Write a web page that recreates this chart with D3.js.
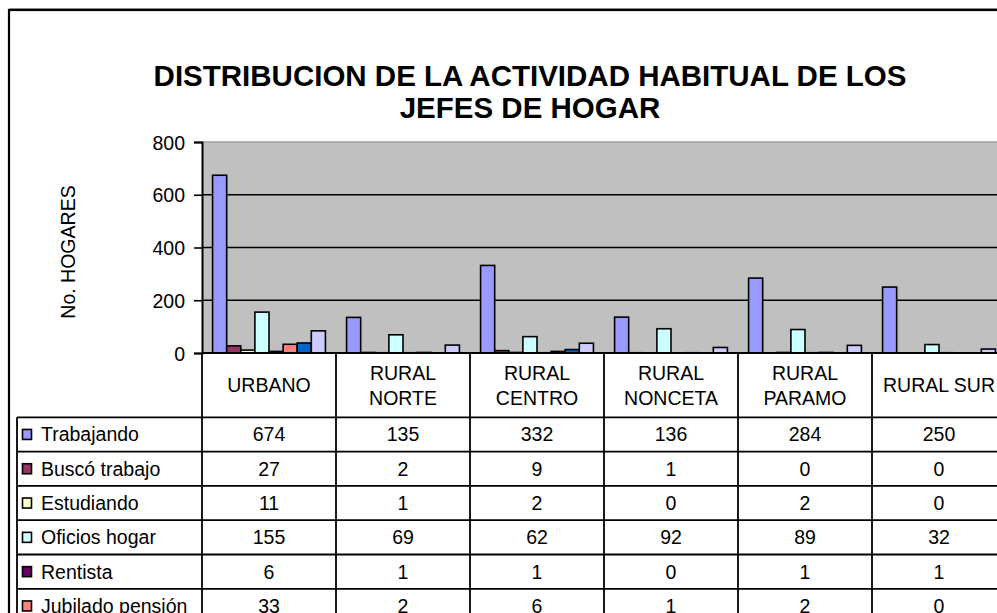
<!DOCTYPE html>
<html>
<head>
<meta charset="utf-8">
<script src="https://cdn.jsdelivr.net/npm/d3@7/dist/d3.min.js"></script>
<style>
  html, body { margin: 0; padding: 0; background: #fff; }
  svg { display: block; }
  text { font-family: Arial, "Liberation Sans", sans-serif; fill: #000; }
</style>
</head>
<body>
<script>
// ---- data ----
const titleLines = ["DISTRIBUCION DE LA ACTIVIDAD HABITUAL DE LOS", "JEFES DE HOGAR"];
const yAxisTitle = "No. HOGARES";
const categories = ["URBANO", "RURAL NORTE", "RURAL CENTRO", "RURAL NONCETA", "RURAL PARAMO", "RURAL SUR"];
const categoryLabelLines = [["URBANO"], ["RURAL", "NORTE"], ["RURAL", "CENTRO"], ["RURAL", "NONCETA"], ["RURAL", "PARAMO"], ["RURAL SUR"]];
const seriesNames = ["Trabajando", "Buscó trabajo", "Estudiando", "Oficios hogar", "Rentista", "Jubilado pensión", "Incapacitado", "Otro"];
const trabajando   = [674, 135, 332, 136, 284, 250];
const buscoTrabajo = [27, 2, 9, 1, 0, 0];
const estudiando   = [11, 1, 2, 0, 2, 0];
const oficiosHogar = [155, 69, 62, 92, 89, 32];
const rentista     = [6, 1, 1, 0, 1, 1];
const jubilado     = [33, 2, 6, 1, 2, 0];
const serie7       = [38, 0, 13, 0, 0, 0];
const serie8       = [84, 30, 37, 21, 29, 15];
const seriesValues = [trabajando, buscoTrabajo, estudiando, oficiosHogar, rentista, jubilado, serie7, serie8];
const seriesColors = ["#9999FF", "#993366", "#FFFFCC", "#CCFFFF", "#660066", "#FF8080", "#0066CC", "#CCCCFF"];
const yTicks = [0, 200, 400, 600, 800];

// ---- layout ----
const W = 997, H = 613;
const plotLeft = 202, plotTop = 142, plotBottom = 353;
const catWidth = 134;
const rowH = 34.3;
const headerBottom = 417.3;
const tableLeft = 17;
const fs = 19.5;

const svg = d3.select("body").append("svg").attr("width", W).attr("height", H);

// outer chart border (extends beyond visible area)
svg.append("line").attr("x1", 9).attr("x2", W + 10).attr("y1", 8.5).attr("y2", 8.5)
  .attr("stroke", "#999").attr("stroke-width", 1);
svg.append("rect").attr("x", 9).attr("y", 10).attr("width", W + 50).attr("height", H + 50)
  .attr("fill", "none").attr("stroke", "#000").attr("stroke-width", 2.2);

// title
svg.append("g").selectAll("text").data(titleLines).join("text")
  .attr("x", 530).attr("y", (d, i) => 86 + i * 32)
  .attr("text-anchor", "middle").attr("font-weight", "bold").attr("font-size", 29.5)
  .text(d => d);

// scales
const x0 = d3.scaleBand().domain(categories).range([plotLeft, plotLeft + catWidth * categories.length])
  .paddingInner(0).paddingOuter(0);
const x1 = d3.scaleBand().domain(d3.range(seriesNames.length)).range([0, x0.bandwidth()])
  .paddingInner(0).paddingOuter(0.75);
const y = d3.scaleLinear().domain([0, 800]).range([plotBottom, plotTop]);

// plot area
svg.append("rect").attr("x", plotLeft).attr("y", plotTop).attr("width", W - plotLeft + 20)
  .attr("height", plotBottom - plotTop).attr("fill", "#C0C0C0");
svg.append("line").attr("x1", plotLeft).attr("x2", W + 5).attr("y1", plotTop).attr("y2", plotTop)
  .attr("stroke", "#A0A0A0").attr("stroke-width", 1.5);

// gridlines
svg.append("g").selectAll("line").data(yTicks.filter(t => t > 0 && t < 800)).join("line")
  .attr("x1", plotLeft).attr("x2", W + 5).attr("y1", d => y(d)).attr("y2", d => y(d))
  .attr("stroke", "#000").attr("stroke-width", 1.6);

// bars
const gCats = svg.append("g").selectAll("g").data(categories).join("g")
  .attr("transform", d => `translate(${x0(d)},0)`);
gCats.selectAll("rect").data((c, ci) => seriesValues.map((vals, si) => ({ si, v: vals[ci] })))
  .join("rect")
  .attr("x", d => x1(d.si)).attr("width", x1.bandwidth())
  .attr("y", d => y(d.v)).attr("height", d => Math.max(0, plotBottom - y(d.v)))
  .attr("fill", d => seriesColors[d.si])
  .attr("stroke", d => d.v > 0 ? "#000" : "none").attr("stroke-width", 1.6);

// y axis
const yAxis = d3.axisLeft(y).tickValues(yTicks).tickSize(8).tickPadding(9).tickFormat(d3.format("d"));
const ga = svg.append("g").attr("transform", `translate(${plotLeft},0)`).call(yAxis);
ga.select(".domain").attr("stroke", "#000").attr("stroke-width", 2);
ga.selectAll(".tick line").attr("stroke", "#000").attr("stroke-width", 1.6);
ga.selectAll(".tick text").attr("font-size", fs).attr("font-family", "Arial, 'Liberation Sans', sans-serif")
  .attr("fill", "#000").attr("dy", "0.36em");

// y axis title
svg.append("text").attr("transform", `translate(75,252) rotate(-90)`)
  .attr("text-anchor", "middle").attr("font-size", fs).text(yAxisTitle);

// ---- data table ----
const tableRight = W + 20;
const nRows = seriesNames.length;
const tg = svg.append("g");
// horizontal lines
tg.append("line").attr("x1", plotLeft).attr("x2", tableRight).attr("y1", plotBottom).attr("y2", plotBottom)
  .attr("stroke", "#000").attr("stroke-width", 2);
tg.selectAll("line.h").data(d3.range(nRows + 1)).join("line").attr("class", "h")
  .attr("x1", tableLeft).attr("x2", tableRight)
  .attr("y1", d => headerBottom + d * rowH).attr("y2", d => headerBottom + d * rowH)
  .attr("stroke", "#000").attr("stroke-width", 1.8);
// vertical lines
tg.append("line").attr("x1", tableLeft).attr("x2", tableLeft).attr("y1", headerBottom).attr("y2", H + 20)
  .attr("stroke", "#000").attr("stroke-width", 1.8);
tg.selectAll("line.v").data(d3.range(categories.length + 1)).join("line").attr("class", "v")
  .attr("x1", d => plotLeft + d * catWidth).attr("x2", d => plotLeft + d * catWidth)
  .attr("y1", plotBottom).attr("y2", H + 20)
  .attr("stroke", "#000").attr("stroke-width", 1.8);

// header labels
categories.forEach((c, ci) => {
  const lines = categoryLabelLines[ci];
  const cx = x0(c) + x0.bandwidth() / 2;
  const midY = (plotBottom + headerBottom) / 2;
  lines.forEach((ln, li) => {
    tg.append("text").attr("x", cx)
      .attr("y", midY + (li - (lines.length - 1) / 2) * 25)
      .attr("dy", "0.36em").attr("text-anchor", "middle").attr("font-size", fs).text(ln);
  });
});

// rows
seriesNames.forEach((name, si) => {
  const cy = headerBottom + si * rowH + rowH / 2;
  tg.append("rect").attr("x", 22.5).attr("y", cy - 5).attr("width", 9).attr("height", 10)
    .attr("fill", seriesColors[si]).attr("stroke", "#000").attr("stroke-width", 1.6);
  tg.append("text").attr("x", 41).attr("y", cy).attr("dy", "0.36em")
    .attr("font-size", fs).text(name);
  categories.forEach((c, ci) => {
    tg.append("text").attr("x", x0(c) + x0.bandwidth() / 2).attr("y", cy).attr("dy", "0.36em")
      .attr("text-anchor", "middle").attr("font-size", fs).text(seriesValues[si][ci]);
  });
});
</script>
</body>
</html>
